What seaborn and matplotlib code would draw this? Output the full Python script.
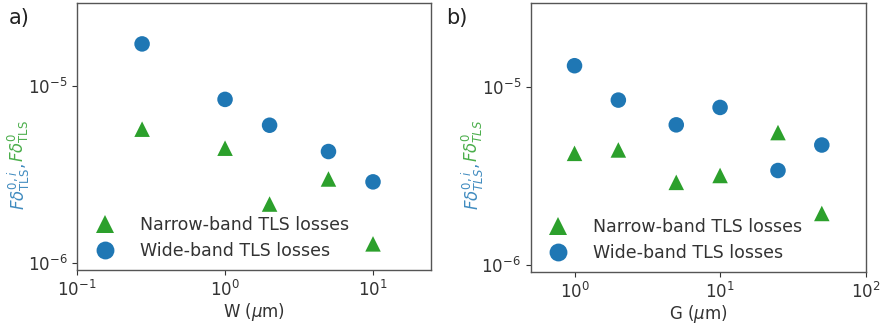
import numpy as np
import pandas as pd
import matplotlib
matplotlib.use("Agg")
import matplotlib.pyplot as plt
import seaborn as sns

# panel a) width sweep
w_um = [0.275, 1.0, 2.0, 5.0, 10.0]
w_narrow = [5.7e-6, 4.45e-6, 2.15e-6, 2.98e-6, 1.28e-6]
w_wide = [1.73e-5, 8.4e-6, 6.0e-6, 4.26e-6, 2.87e-6]

# panel b) gap sweep
g_um = [1.0, 2.0, 5.0, 10.0, 25.0, 50.0]
g_narrow = [4.22e-6, 4.41e-6, 2.9e-6, 3.17e-6, 5.52e-6, 1.94e-6]
g_wide = [1.31e-5, 8.4e-6, 6.1e-6, 7.64e-6, 3.38e-6, 4.7e-6]

labels = ["Narrow-band TLS losses", "Wide-band TLS losses"]
blue = "#1f77b4"
green = "#2ca02c"

sns.set_theme(style="white")
plt.rcParams["font.family"] = ["DejaVu Sans"]
plt.rcParams["axes.edgecolor"] = "#555555"
plt.rcParams["xtick.color"] = "#333333"
plt.rcParams["ytick.color"] = "#333333"

fig = plt.figure(figsize=(8.86, 3.25), dpi=100)
ax1 = fig.add_axes([0.087, 0.169, 0.399, 0.822])
ax2 = fig.add_axes([0.599, 0.163, 0.378, 0.828])


def panel(ax, x, narrow, wide, xlabel, xlim):
    df = pd.DataFrame({"x": x + x, "y": narrow + wide,
                       "kind": [labels[0]] * len(x) + [labels[1]] * len(x)})
    sns.scatterplot(data=df, x="x", y="y", hue="kind", style="kind",
                    markers={labels[0]: "^", labels[1]: "o"},
                    palette={labels[0]: green, labels[1]: blue},
                    s=125, linewidth=0, ax=ax)
    ax.set_xscale("log")
    ax.set_yscale("log")
    ax.set_xlim(*xlim)
    ax.set_ylim(0.91e-6, 2.95e-5)
    ax.set_xlabel(xlabel, fontsize=12, color="#333333", labelpad=1)
    ax.set_ylabel("")
    ax.tick_params(axis="both", which="major", labelsize=12, length=3.5, width=0.8,
                   bottom=True, left=True)
    ax.tick_params(axis="both", which="minor", length=0)
    for sp in ax.spines.values():
        sp.set_linewidth(1.0)
    leg = ax.legend(loc="lower left", frameon=False, fontsize=12.5,
                    handletextpad=1.0, borderaxespad=0.2, labelspacing=0.45,
                    markerscale=1.15)
    for t in leg.get_texts():
        t.set_color("#333333")


panel(ax1, w_um, w_narrow, w_wide, r"W ($\mu$m)", (0.1, 24.5))
panel(ax2, g_um, g_narrow, g_wide, r"G ($\mu$m)", (0.5, 100))

# two-colour y labels
fig.text(0.021, 0.354, r"$F\delta^{0,i}_{\rm TLS}$, ", rotation=90, color=blue,
         ha="center", va="bottom", fontsize=12, alpha=0.85)
fig.text(0.021, 0.50, r"$F\delta^{0}_{\rm TLS}$", rotation=90, color=green,
         ha="center", va="bottom", fontsize=12, alpha=0.85)
fig.text(0.533, 0.354, r"$F\delta^{0,i}_{TLS}$, ", rotation=90, color=blue,
         ha="center", va="bottom", fontsize=12, alpha=0.85)
fig.text(0.533, 0.50, r"$F\delta^{0}_{TLS}$", rotation=90, color=green,
         ha="center", va="bottom", fontsize=12, alpha=0.85)

fig.text(0.010, 0.925, "a)", fontsize=15, color="#222222")
fig.text(0.503, 0.925, "b)", fontsize=15, color="#222222")

fig.savefig("out.png", dpi=100)
